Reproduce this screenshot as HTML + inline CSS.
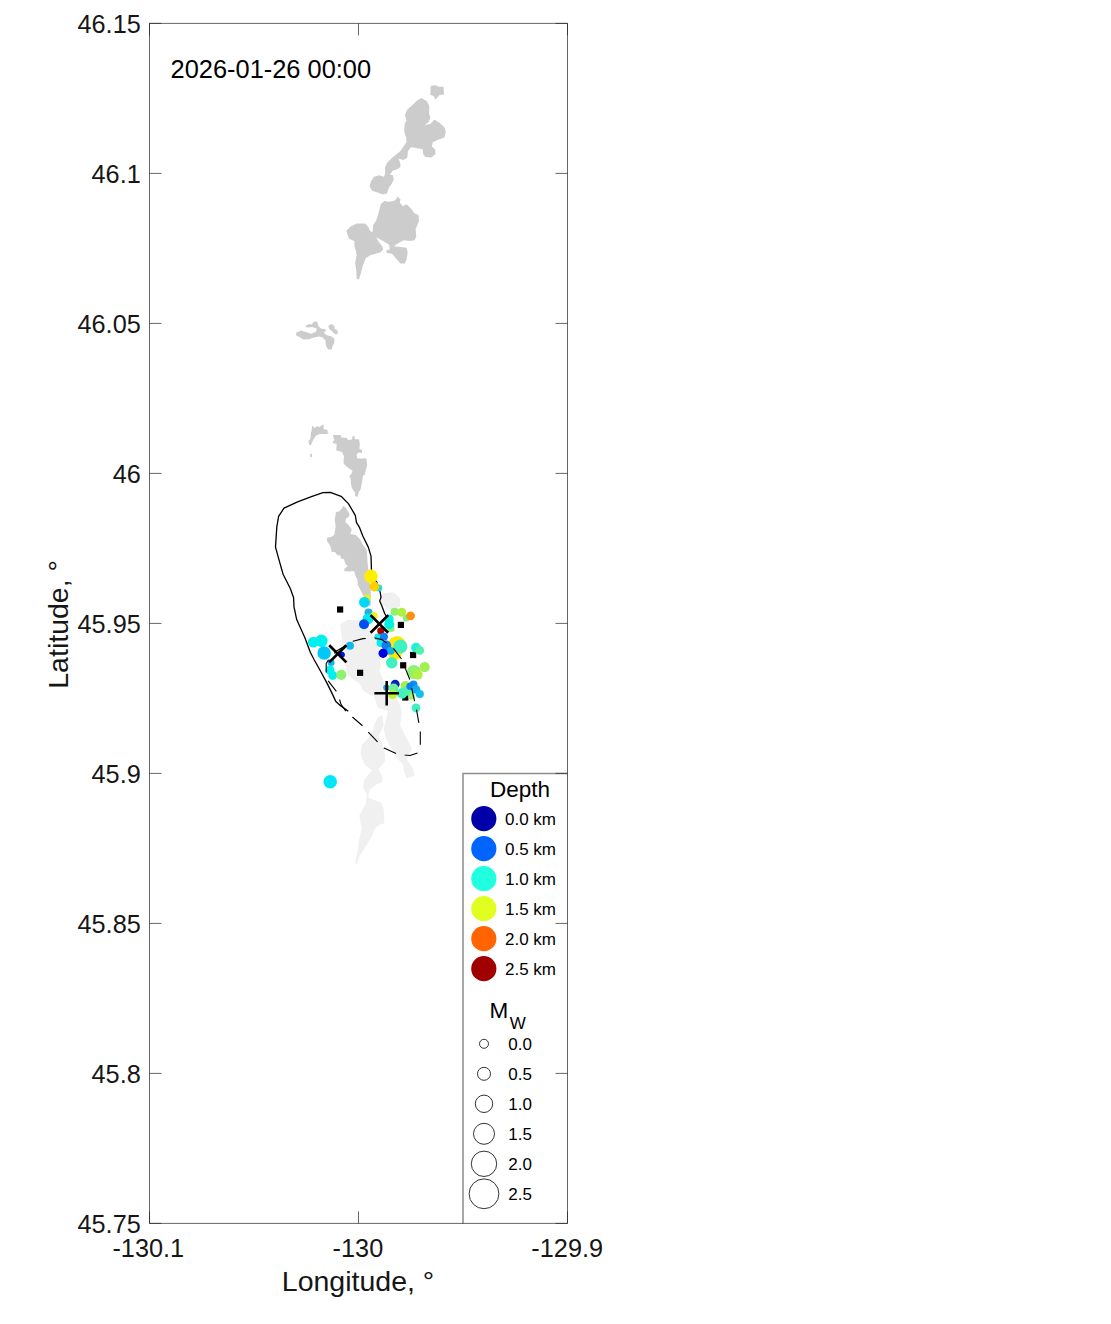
<!DOCTYPE html><html><head><meta charset="utf-8"><style>html,body{margin:0;padding:0;background:#fff;overflow:hidden}svg{display:block}text{font-family:"Liberation Sans",sans-serif}</style></head><body>
<svg width="1111" height="1324" viewBox="0 0 1111 1324">
<rect width="1111" height="1324" fill="#fff"/>
<path d="M388.8 707.7L400.3 705.1L401.6 712.8L400.3 725.7L406.8 738.5L411.9 748.8L406.8 759.1L413.2 769.3L414.5 775.7L406.8 778.3L404.2 771.9L402.9 764.2L396.5 757.8L391.4 748.8L386.2 738.5L383.7 729.5L386.2 719.3Z" fill="#F0F0F0" />
<path d="M378.5 716.7L382.4 715.4L383.7 725.7L378.5 735.9L382.4 742.4L384.9 753.9L384.9 761.6L378.5 769.3L382.4 777.0L382.4 782.2L375.9 784.7L369.5 789.9L368.2 797.6L381.1 802.7L383.7 809.1L384.3 823.3L379.8 824.5L374.7 828.4L372.1 836.1L365.7 846.4L359.3 856.6L356.7 865.6L355.4 861.8L358.0 848.9L359.3 838.7L361.8 828.4L359.3 815.5L365.7 804.0L367.0 795.0L363.1 787.3L364.4 779.6L372.1 770.6L364.4 764.2L360.5 753.9L361.8 744.9L368.2 738.5L373.4 729.5L374.7 723.1Z" fill="#F0F0F0" />
<path d="M340.4 624.0L348.6 619.5L354.9 621.3L360.4 627.6L367.6 632.1L374.0 635.8L375.8 643.0L372.1 648.5L369.4 653.9L375.8 659.3L381.2 664.8L379.4 671.1L383.0 679.3L384.8 684.7L379.4 692.0L370.3 693.8L364.0 689.3L360.4 682.9L363.1 677.5L355.8 672.0L351.3 666.6L347.7 662.1L345.9 655.7L346.8 646.7L343.1 635.8L346.8 631.2L341.3 628.5Z" fill="#F0F0F0" />
<path d="M340.3 626.3L347.9 620.0L359.2 620.0L370.6 630.1L375.6 642.7L380.6 652.8L380.6 662.8L375.6 672.9L378.1 683.0L383.2 690.6L380.6 695.6L370.6 695.6L363.0 690.6L359.2 683.0L352.9 679.2L347.9 675.4L345.4 665.4L345.4 652.8L342.8 645.2L341.6 635.1Z" fill="#F0F0F0" />
<path d="M383.0 593.2L393.9 592.3L400.2 598.6L400.2 605.9L393.9 609.5L386.7 608.6L381.2 603.1L380.3 596.8Z" fill="#F0F0F0" />
<path d="M372.0 690.0L392.0 688.0L400.0 705.0L392.0 712.0L378.0 708.0Z" fill="#F0F0F0" /><path d="M430.7 85.7L436.0 85.3L438.2 86.8L443.5 86.8L444.0 94.4L439.7 95.1L435.5 99.6L433.7 95.9L430.4 95.1Z" fill="#CCCCCC" />
<path d="M421.6 98.1L426.9 101.2L429.2 105.7L429.2 114.0L430.4 117.8L428.4 122.3L424.6 125.3L430.7 123.8L434.5 119.6L439.7 123.1L444.3 126.9L445.8 132.1L444.3 137.4L438.2 139.7L432.9 142.0L431.9 146.5L435.2 149.5L435.5 154.1L431.4 157.4L425.4 157.1L423.1 154.1L422.8 149.5L416.3 148.0L411.0 147.3L408.0 151.0L407.3 157.8L403.5 160.1L400.5 159.3L398.6 158.6L400.2 163.1L400.5 166.9L397.1 169.2L392.6 170.7L389.9 174.5L392.9 175.2L393.7 179.7L391.4 184.3L389.1 187.3L386.9 193.4L382.3 194.4L377.8 192.6L372.5 191.1L369.5 186.5L371.0 181.3L374.0 176.7L379.3 175.2L383.8 176.7L385.3 173.7L385.0 167.7L386.9 163.1L391.4 158.6L395.9 154.8L400.5 151.0L403.5 146.5L406.5 142.0L406.2 137.4L404.2 132.1L404.7 123.8L406.5 120.8L405.0 114.8L407.3 109.5L412.5 104.9L417.1 100.4Z" fill="#CCCCCC" />
<path d="M397.7 196.4L400.5 199.4L399.7 202.4L402.7 206.2L406.5 204.2L411.0 208.5L414.1 213.0L418.6 215.3L418.9 221.3L417.1 225.8L415.6 228.9L416.3 235.7L414.8 240.2L409.5 241.0L403.5 240.2L398.2 243.2L393.7 246.2L400.5 247.0L406.5 247.8L407.7 252.3L406.5 259.8L405.0 263.6L400.5 263.6L395.9 258.3L392.1 253.8L386.9 253.0L386.1 250.8L389.9 249.3L389.1 244.7L383.1 241.0L376.3 237.2L378.5 241.7L382.3 246.2L383.1 249.3L380.8 252.3L370.2 255.3L365.7 258.3L362.7 265.9L360.4 275.0L358.9 279.5L356.6 278.7L356.3 270.4L355.1 262.9L356.6 255.3L355.9 250.8L354.4 246.2L354.4 241.0L349.1 238.7L346.3 231.1L350.6 226.6L356.6 223.6L364.9 223.6L368.0 226.6L370.2 231.1L372.5 232.6L373.2 225.1L376.3 220.6L378.5 213.0L380.8 203.9L384.6 200.9L388.4 201.7L393.7 200.9L395.9 199.4Z" fill="#CCCCCC" />
<path d="M295.8 332.9L300.8 330.6L305.7 332.0L311.1 333.8L315.6 332.0L317.0 328.8L312.0 327.0L307.1 327.5L305.3 326.1L308.4 324.3L312.0 324.3L313.4 322.1L316.5 321.2L317.9 323.4L318.3 326.1L321.0 328.4L325.5 329.3L326.0 331.1L323.7 332.4L326.4 335.1L331.4 336.5L334.5 338.7L334.1 343.2L332.3 346.8L331.8 349.5L328.2 349.5L326.0 345.9L325.5 340.5L322.4 337.4L319.2 336.5L312.9 337.8L309.3 339.2L303.5 339.6L299.4 336.9L296.3 335.6Z" fill="#CCCCCC" />
<path d="M328.2 325.7L331.8 324.1L334.5 326.1L334.3 328.8L336.8 329.7L338.1 332.4L336.3 334.7L334.5 333.8L331.8 331.1L329.1 328.8Z" fill="#CCCCCC" />
<path d="M312.0 426.2L313.8 426.2L314.0 428.2L316.9 426.2L319.3 427.0L323.4 424.2L323.8 429.4L327.4 429.4L327.8 433.9L319.3 433.9L315.7 435.9L313.6 439.2L312.0 442.4L310.8 445.2L309.2 444.8L308.4 441.6L310.4 438.4L310.8 433.5L311.6 431.1Z" fill="#CCCCCC" />
<path d="M310.4 453.7L312.0 453.7L312.0 457.0L310.0 457.0Z" fill="#CCCCCC" />
<path d="M333.1 435.1L340.8 435.1L341.2 437.5L346.8 437.9L348.1 440.0L352.1 439.6L352.5 436.3L354.5 435.9L354.9 439.2L359.0 439.2L359.8 444.0L359.4 448.9L362.2 450.1L361.8 452.9L358.2 452.5L356.6 455.0L357.4 458.6L363.0 458.6L366.3 458.2L367.1 465.1L365.5 471.6L364.7 474.8L363.0 475.6L362.2 481.3L360.6 489.4L359.0 491.8L357.4 496.7L355.4 496.3L354.9 492.6L351.7 487.8L350.9 482.9L350.5 478.0L349.3 476.4L351.7 473.2L352.5 470.8L348.9 468.3L346.8 466.7L343.6 463.5L343.6 460.2L344.0 456.6L342.0 452.1L336.3 450.5L336.7 444.0L333.1 443.2L333.1 440.8L334.7 440.4L333.5 437.9Z" fill="#CCCCCC" />
<path d="M343.7 505.8L346.8 508.9L349.5 513.9L349.1 516.6L345.9 518.8L345.5 522.0L348.6 525.1L351.8 529.6L350.4 534.1L355.8 535.0L359.9 539.1L363.0 544.9L366.6 549.4L367.1 554.8L367.5 562.0L368.4 569.2L369.1 576.2L370.8 592.4L370.8 605.4L367.5 606.4L365.4 597.8L363.2 595.6L357.8 584.8L357.6 580.0L355.4 575.5L354.0 571.0L349.1 571.5L344.1 571.0L344.6 568.3L347.7 566.5L345.0 562.9L344.1 559.3L341.0 558.4L340.5 555.7L336.9 554.8L335.1 552.1L331.5 552.1L331.1 548.5L329.7 544.9L327.0 541.3L327.0 537.7L331.5 536.8L334.2 535.0L335.1 530.5L335.6 526.0L334.7 519.7L335.6 514.3L336.0 512.1L339.6 511.2L342.3 507.6Z" fill="#CCCCCC" /><path d="M348.3 711.3L340.2 705.4L335.9 701.6L331.6 692.4L326.2 681.6L320.3 670.8L314.3 660.0L310.3 652.2L304.9 637.7L296.7 619.6L294.0 606.9L293.6 597.8L290.4 588.8L283.1 574.3L279.5 561.6L275.5 547.1L276.8 527.1L278.6 516.3L284.0 508.1L297.6 501.8L312.1 496.3L323.0 492.7L330.3 492.3L341.1 496.3L348.4 503.6L355.3 515.3L356.5 522.6L359.3 527.1L362.9 536.2L368.3 547.1L371.0 556.1L371.6 574.3L371.8 577.0L376.6 581.6L380.2 592.4L381.0 597.4L379.7 601.0L381.5 605.0L384.7 613.5L386.3 616.3" fill="none" stroke="#000" stroke-width="1.3" stroke-linejoin="round" /><rect x="337.0" y="606.4" width="6.2" height="6.2" fill="#000"/>
<rect x="397.8" y="621.8" width="6.2" height="6.2" fill="#000"/>
<rect x="410.0" y="651.9" width="6.2" height="6.2" fill="#000"/>
<rect x="400.1" y="662.2" width="6.2" height="6.2" fill="#000"/>
<rect x="357.0" y="669.7" width="6.2" height="6.2" fill="#000"/>
<rect x="402.2" y="694.4" width="6.2" height="6.2" fill="#000"/><circle cx="370.9" cy="576.2" r="6.75" fill="#FFEE00"/>
<circle cx="378.8" cy="587.9" r="3.4" fill="#20E0D0"/>
<circle cx="374.3" cy="586.6" r="4.9" fill="#FFD000"/>
<circle cx="367.3" cy="597.8" r="3.8" fill="#E0F030"/>
<circle cx="364.4" cy="602.3" r="5.4" fill="#00D8F8"/>
<circle cx="368.5" cy="612.6" r="4.0" fill="#20B0E0"/>
<circle cx="373.9" cy="615.8" r="3.8" fill="#F0F020"/>
<circle cx="368.0" cy="618.9" r="5.4" fill="#00E8F0"/>
<circle cx="364.0" cy="624.3" r="5.0" fill="#0050F0"/>
<circle cx="391.0" cy="628.5" r="3.6" fill="#90F070"/>
<circle cx="389.2" cy="618.9" r="4.5" fill="#10F0E0"/>
<circle cx="389.2" cy="624.3" r="5.0" fill="#00F0E0"/>
<circle cx="394.6" cy="611.7" r="4.0" fill="#90F070"/>
<circle cx="401.8" cy="612.2" r="4.5" fill="#B0F040"/>
<circle cx="406.2" cy="618.2" r="3.4" fill="#80F080"/>
<circle cx="410.6" cy="615.8" r="4.4" fill="#FF9010"/>
<circle cx="377.8" cy="637.0" r="3.4" fill="#10E8F0"/>
<circle cx="380.5" cy="643.0" r="4.0" fill="#10E8F0"/>
<circle cx="389.5" cy="651.0" r="4.0" fill="#10E8F0"/>
<circle cx="380.8" cy="630.8" r="3.6" fill="#B00000"/>
<circle cx="383.9" cy="636.7" r="4.0" fill="#1080F0"/>
<circle cx="397.0" cy="645.0" r="9.0" fill="#FFE800"/>
<circle cx="395.0" cy="653.0" r="7.0" fill="#FFE800"/>
<circle cx="400.4" cy="646.6" r="7.0" fill="#40F0C0"/>
<circle cx="386.3" cy="645.5" r="4.9" fill="#1080F0"/>
<circle cx="390.7" cy="650.9" r="3.8" fill="#10B0F0"/>
<circle cx="383.1" cy="653.3" r="4.6" fill="#0000E0"/>
<circle cx="391.7" cy="662.8" r="5.7" fill="#40F0C0"/>
<circle cx="416.0" cy="647.7" r="4.9" fill="#20F0D0"/>
<circle cx="419.8" cy="650.4" r="4.3" fill="#50F0B0"/>
<circle cx="413.9" cy="672.0" r="7.0" fill="#90F070"/>
<circle cx="424.7" cy="667.1" r="5.1" fill="#A0F050"/>
<circle cx="417.7" cy="674.7" r="4.9" fill="#B0F040"/>
<circle cx="313.3" cy="642.1" r="5.4" fill="#00F0F0"/>
<circle cx="321.4" cy="640.8" r="6.2" fill="#00F0F0"/>
<circle cx="324.1" cy="653.0" r="6.75" fill="#00C8F8"/>
<circle cx="350.0" cy="645.7" r="4.0" fill="#10B8F0"/>
<circle cx="341.9" cy="654.8" r="3.0" fill="#0010E0"/>
<circle cx="331.1" cy="662.4" r="3.5" fill="#10B8F0"/>
<circle cx="330.0" cy="670.0" r="4.5" fill="#00F0F0"/>
<circle cx="332.7" cy="675.4" r="4.5" fill="#00F0F0"/>
<circle cx="341.3" cy="674.8" r="5.1" fill="#90F070"/>
<circle cx="386.4" cy="687.6" r="3.2" fill="#20A0E0"/>
<circle cx="395.2" cy="684.2" r="4.4" fill="#0020C0"/>
<circle cx="393.7" cy="688.3" r="4.8" fill="#70F090"/>
<circle cx="392.7" cy="694.6" r="4.4" fill="#C0F030"/>
<circle cx="405.3" cy="685.8" r="4.7" fill="#A0F050"/>
<circle cx="402.1" cy="693.3" r="5.4" fill="#40F0C0"/>
<circle cx="407.8" cy="690.8" r="5.0" fill="#50F0B0"/>
<circle cx="413.5" cy="684.5" r="4.0" fill="#1090F0"/>
<circle cx="410.2" cy="686.2" r="3.8" fill="#1080F0"/>
<circle cx="416.0" cy="689.5" r="4.3" fill="#10B0F0"/>
<circle cx="419.8" cy="694.0" r="4.1" fill="#10C0F0"/>
<circle cx="411.6" cy="696.5" r="3.2" fill="#A0F060"/>
<circle cx="416.0" cy="707.8" r="4.4" fill="#40F0C0"/>
<circle cx="330.2" cy="781.8" r="6.8" fill="#00E8F8"/><path d="M326.2 675.0L326.2 663.5L329.0 659.0L336.5 651.0L353.0 641.3L363.0 638.6L375.0 638.0L382.0 639.6L392.8 647.7L401.5 659.0L409.6 679.0L416.5 709.7L420.3 731.0L420.3 745.0L417.6 753.0L410.0 755.5L404.7 755.0L397.0 754.0L384.0 748.0L377.6 742.0L368.5 732.4L362.6 725.9L352.4 717.0L345.0 710.0L341.0 704.3L339.4 699.1L336.5 691.6L328.4 681.1L326.2 675.0" fill="none" stroke="#000" stroke-width="1.1" stroke-linejoin="round" stroke-dasharray="13.4 8.7" stroke-dashoffset="19.6"/><path d="M370.59999999999997 615.1L388.2 632.6999999999999M370.59999999999997 632.6999999999999L388.2 615.1" stroke="#000" stroke-width="2.7" fill="none"/>
<path d="M329.2 645.1999999999999L346.40000000000003 662.4M329.2 662.4L346.40000000000003 645.1999999999999" stroke="#000" stroke-width="2.7" fill="none"/>
<path d="M374.4 693.3H399M386.7 681V705.6" stroke="#000" stroke-width="2.6" fill="none"/>
<rect x="463" y="773.5" width="104.5" height="450" fill="#fff"/>
<path d="M463 1223.4V773.5H567.5" fill="none" stroke="#8c8c8c" stroke-width="1.5"/>
<path d="M149.5 23.4H567.5V1223.4H149.5Z" fill="none" stroke="#262626" stroke-opacity="0.7" stroke-width="1"/>
<path d="M149.5 23.4h12M567.5 23.4h-12M149.5 173.4h12M567.5 173.4h-12M149.5 323.4h12M567.5 323.4h-12M149.5 473.4h12M567.5 473.4h-12M149.5 623.4h12M567.5 623.4h-12M149.5 773.4h12M567.5 773.4h-12M149.5 923.4h12M567.5 923.4h-12M149.5 1073.4h12M567.5 1073.4h-12M149.5 1223.4h12M567.5 1223.4h-12M149.5 1223.4v-12M149.5 23.4v12M358.4999999999881 1223.4v-12M358.4999999999881 23.4v12M567.5 1223.4v-12M567.5 23.4v12" fill="none" stroke="#262626" stroke-opacity="0.7" stroke-width="1"/>
<text x="140.8" y="33.0" font-size="25.3" fill="#161616" text-anchor="end">46.15</text>
<text x="140.8" y="183.0" font-size="25.3" fill="#161616" text-anchor="end">46.1</text>
<text x="140.8" y="333.0" font-size="25.3" fill="#161616" text-anchor="end">46.05</text>
<text x="140.8" y="483.0" font-size="25.3" fill="#161616" text-anchor="end">46</text>
<text x="140.8" y="633.0" font-size="25.3" fill="#161616" text-anchor="end">45.95</text>
<text x="140.8" y="783.0" font-size="25.3" fill="#161616" text-anchor="end">45.9</text>
<text x="140.8" y="933.0" font-size="25.3" fill="#161616" text-anchor="end">45.85</text>
<text x="140.8" y="1083.0" font-size="25.3" fill="#161616" text-anchor="end">45.8</text>
<text x="140.8" y="1233.0" font-size="25.3" fill="#161616" text-anchor="end">45.75</text>
<text x="148.3" y="1257" font-size="25.3" fill="#161616" text-anchor="middle">-130.1</text>
<text x="357.9" y="1257" font-size="25.3" fill="#161616" text-anchor="middle">-130</text>
<text x="567.2" y="1257" font-size="25.3" fill="#161616" text-anchor="middle">-129.9</text>
<text x="358" y="1291.3" font-size="28.5" fill="#161616" text-anchor="middle">Longitude, °</text>
<text transform="translate(68.1 624.4) rotate(-90)" x="0" y="0" font-size="28.5" fill="#161616" text-anchor="middle">Latitude, °</text>
<text x="170.6" y="77.9" font-size="25.4" fill="#000">2026-01-26 00:00</text>
<text x="520" y="796.8" font-size="22.5" fill="#000" text-anchor="middle">Depth</text>
<circle cx="483.8" cy="818.7" r="12.6" fill="#0000A8"/>
<text x="505.0" y="824.8" font-size="17" fill="#000">0.0 km</text>
<circle cx="483.8" cy="848.7" r="12.6" fill="#0064FF"/>
<text x="505.0" y="854.8" font-size="17" fill="#000">0.5 km</text>
<circle cx="483.8" cy="878.7" r="12.6" fill="#20FFE0"/>
<text x="505.0" y="884.8" font-size="17" fill="#000">1.0 km</text>
<circle cx="483.8" cy="908.7" r="12.6" fill="#E0FF20"/>
<text x="505.0" y="914.8" font-size="17" fill="#000">1.5 km</text>
<circle cx="483.8" cy="938.7" r="12.6" fill="#FF6400"/>
<text x="505.0" y="944.8" font-size="17" fill="#000">2.0 km</text>
<circle cx="483.8" cy="968.7" r="12.6" fill="#A00000"/>
<text x="505.0" y="974.8" font-size="17" fill="#000">2.5 km</text>
<text x="489.6" y="1017.9" font-size="22.5" fill="#000">M</text>
<text x="509.8" y="1028.6" font-size="17" fill="#000">W</text>
<circle cx="484" cy="1043.8" r="4.5" fill="none" stroke="#333" stroke-width="1"/>
<text x="508.3" y="1049.9" font-size="17" fill="#000">0.0</text>
<circle cx="484" cy="1073.8" r="6.5" fill="none" stroke="#333" stroke-width="1"/>
<text x="508.3" y="1079.9" font-size="17" fill="#000">0.5</text>
<circle cx="484" cy="1103.8" r="8.7" fill="none" stroke="#333" stroke-width="1"/>
<text x="508.3" y="1109.9" font-size="17" fill="#000">1.0</text>
<circle cx="484" cy="1133.8" r="10.5" fill="none" stroke="#333" stroke-width="1"/>
<text x="508.3" y="1139.9" font-size="17" fill="#000">1.5</text>
<circle cx="484" cy="1163.8" r="12.7" fill="none" stroke="#333" stroke-width="1"/>
<text x="508.3" y="1169.9" font-size="17" fill="#000">2.0</text>
<circle cx="484" cy="1193.8" r="14.9" fill="none" stroke="#333" stroke-width="1"/>
<text x="508.3" y="1199.9" font-size="17" fill="#000">2.5</text>
</svg></body></html>
